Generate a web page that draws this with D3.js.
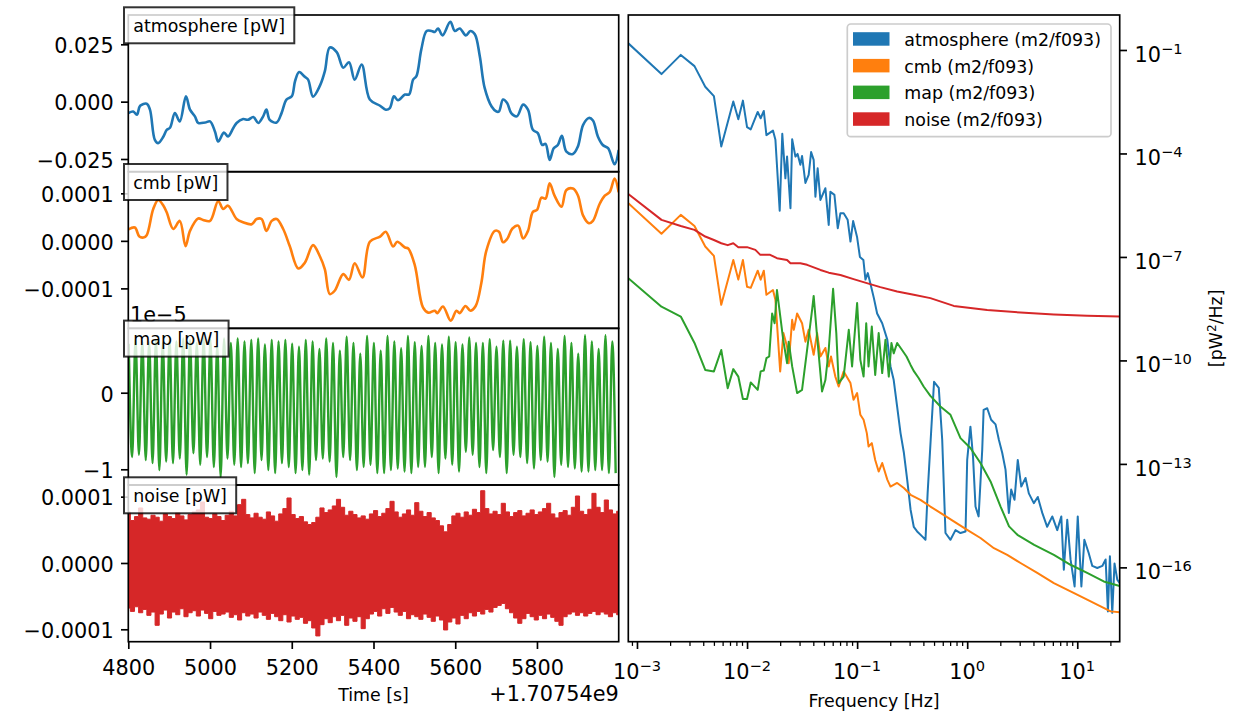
<!DOCTYPE html>
<html>
<head>
<meta charset="utf-8">
<script src="https://cdn.jsdelivr.net/npm/d3@7"></script>
<style>
  body { margin: 0; background: #fff; }
  svg { font-family: "DejaVu Sans", sans-serif; }
</style>
</head>
<body>
<svg width="1247" height="726"></svg>
<script>
// ---- datos ----
// serie de atmosfera: [tiempo - 1.70754e9 (s), valor (pW)]
const atmSerie = [
  [4800,-0.0050],[4812,-0.0043],[4821,-0.0057],[4829,-0.0018],[4845,-0.0009],[4853,-0.0035],[4865,-0.0167],[4873,-0.0181],
  [4886,-0.0152],[4894,-0.0123],[4902,-0.0114],[4914,-0.0050],[4926,-0.0086],[4941,0.0023],[4951,-0.0035],[4963,-0.0064],
  [4971,-0.0093],[4988,-0.0091],[5000,-0.0086],[5012,-0.0130],[5020,-0.0174],[5034,-0.0135],[5044,-0.0152],[5057,-0.0115],
  [5065,-0.0093],[5081,-0.0076],[5093,-0.0079],[5106,-0.0067],[5118,-0.0093],[5130,-0.0064],[5138,-0.0035],[5146,-0.0079],
  [5163,-0.0091],[5175,-0.0050],[5187,0.0009],[5200,0.0023],[5208,0.0089],[5218,0.0129],[5232,0.0108],[5240,0.0096],
  [5252,0.0022],[5269,0.0070],[5281,0.0133],[5293,0.0236],[5310,0.0216],[5326,0.0148],[5340,0.0172],[5354,0.0096],
  [5371,0.0162],[5391,0.0009],[5416,-0.0018],[5430,-0.0035],[5440,-0.0028],[5450,0.0023],[5460,0.0006],[5477,0.0031],
  [5487,0.0031],[5497,0.0096],[5505,0.0111],[5517,0.0228],[5530,0.0308],[5542,0.0308],[5550,0.0304],[5558,0.0319],
  [5569,0.0289],[5588,0.0348],[5599,0.0308],[5611,0.0319],[5626,0.0289],[5637,0.0308],[5648,0.0294],[5660,0.0199],
  [5672,0.0060],[5689,-0.0021],[5701,-0.0043],[5707,-0.0043],[5717,0.0009],[5727,-0.0006],[5737,-0.0050],[5751,-0.0064],
  [5766,-0.0013],[5778,-0.0035],[5790,-0.0123],[5802,-0.0137],[5813,-0.0189],[5821,-0.0184],[5831,-0.0254],[5841,-0.0203],
  [5851,-0.0189],[5861,-0.0149],[5872,-0.0218],[5888,-0.0228],[5900,-0.0196],[5913,-0.0101],[5927,-0.0071],[5937,-0.0082],
  [5949,-0.0152],[5961,-0.0189],[5974,-0.0203],[5990,-0.0273],[6000,-0.0211]
];

// serie cmb: [tiempo, valor en unidades de 1e-5 pW]
const cmbSerie = [
  [4800,2.4],[4816,2.8],[4827,0.9],[4837,0.7],[4845,1.2],[4861,6.7],[4873,8.6],[4886,7.4],[4894,6.0],[4910,2.5],
  [4926,4.2],[4940,-1.1],[4951,2.1],[4971,4.7],[4983,4.4],[5000,4.2],[5020,8.4],[5032,6.7],[5044,7.4],[5065,4.6],
  [5081,3.9],[5102,3.5],[5114,4.6],[5126,4.6],[5138,2.1],[5151,4.2],[5163,4.6],[5179,2.5],[5195,-1.1],[5216,-5.8],
  [5232,-4.6],[5252,-0.9],[5269,-3.3],[5281,-6.0],[5293,-11.2],[5305,-10.5],[5326,-7.0],[5340,-8.2],[5354,-4.7],[5373,-7.7],
  [5391,-0.2],[5416,0.9],[5430,1.9],[5448,-1.2],[5458,-0.2],[5477,-1.4],[5485,-1.6],[5501,-5.1],[5521,-14.0],[5534,-15.1],
  [5550,-14.7],[5556,-15.2],[5570,-13.8],[5589,-16.8],[5603,-14.7],[5611,-15.2],[5625,-13.7],[5637,-14.7],[5650,-13.7],[5664,-8.8],
  [5676,-2.1],[5697,2.1],[5707,1.9],[5717,-0.3],[5727,0.4],[5740,2.6],[5754,3.2],[5766,0.5],[5778,2.1],[5790,6.1],
  [5800,6.5],[5811,9.1],[5821,8.9],[5831,12.1],[5843,9.5],[5860,7.2],[5872,10.7],[5888,11.0],[5900,9.6],[5913,5.3],
  [5927,3.7],[5937,4.2],[5953,7.7],[5966,9.5],[5978,10.3],[5990,13.1],[6000,10.2]
];

// mapa: maximos y minimos de cada oscilacion (unidades de 1e-5 pW)
const mapInicio = 4801;
const mapMedioPeriodo = 8.333;
const mapMaximos = [
  0.64,0.70,0.67,0.66,0.69,0.65,0.70,0.67,0.71,0.69,0.65,0.71,0.69,0.62,0.71,0.65,0.71,0.67,0.69,0.71,0.63,0.69,0.67,0.69,0.64,0.60,0.69,0.67,
  0.57,0.71,0.65,0.55,0.73,0.65,0.51,0.74,0.65,0.55,0.74,0.67,0.58,0.74,0.66,0.61,0.74,0.65,0.63,0.73,0.66,0.63,0.72,0.65,0.65,0.70,
  0.60,0.68,0.68,0.60,0.70,0.66,0.61,0.73,0.65,0.57,0.74,0.65,0.51,0.75,0.67,0.57,0.75,0.67
];
const mapMinimos = [
  -0.84,-0.81,-0.88,-0.92,-1.01,-0.90,-0.92,-0.86,-1.07,-0.79,-0.94,-0.84,-0.97,-1.10,-0.86,-0.94,-0.97,-0.92,-1.05,-0.88,-1.01,-1.05,-0.92,-0.97,-1.05,-1.01,-1.07,-0.88,
  -0.86,-0.90,-1.10,-0.84,-0.88,-1.01,-0.97,-0.94,-1.05,-1.05,-1.01,-0.99,-1.03,-1.05,-0.97,-0.97,-0.84,-1.05,-0.86,-0.94,-1.03,-0.77,
  -0.81,-0.97,-1.05,-0.75,-0.84,-1.05,-0.81,-0.84,-0.92,-0.99,-0.88,-0.90,-1.10,-0.94,-0.97,-0.99,-1.03,-1.03,-1.01,-1.01,-1.05,-1.05
];

// ruido: borde superior e inferior de la banda cada ~10 s (unidades de 1e-5 pW)
const ruidoInicio = 4800;
const ruidoPaso = 1200 / 119;
const ruidoAlto = [
  7.7,6.4,7.0,8.3,6.8,6.6,7.2,6.9,6.3,7.4, 7.0,6.7,7.6,7.1,6.5,7.3,7.7,8.0,9.2,6.9,
  6.7,7.4,7.0,6.4,7.2,7.8,7.1,8.8,9.6,7.3, 6.8,7.5,6.9,6.6,7.7,7.1,6.3,7.4,8.2,9.8,
  7.3,6.7,7.0,6.2,5.8,6.1,6.9,8.3,7.6,8.0, 8.6,9.6,8.4,7.2,7.8,7.3,6.8,7.1,6.6,7.4,
  7.9,7.0,7.5,8.2,9.3,7.7,6.9,7.4,8.0,7.2, 9.1,7.8,7.0,7.6,6.8,6.4,5.6,4.7,5.8,7.1,
  7.5,6.9,7.7,7.2,8.1,7.6,10.9,8.2,7.4,7.8, 7.3,9.0,7.7,7.0,7.6,7.9,7.1,7.5,8.0,7.3,
  7.7,8.2,9.0,7.4,6.8,7.6,7.9,7.2,8.4,10.1, 7.8,7.3,8.1,10.5,8.4,7.6,9.5,8.0,7.4,7.8
];
const ruidoBajo = [
  -6.8,-7.3,-6.6,-7.5,-7.0,-7.9,-7.4,-9.4,-7.7,-7.1, -8.3,-7.4,-7.8,-6.9,-8.1,-7.5,-7.2,-8.0,-7.1,-7.6,
  -8.4,-7.3,-7.9,-7.7,-7.4,-8.2,-7.8,-8.6,-7.5,-8.0, -7.7,-8.3,-7.4,-7.9,-8.5,-7.6,-8.1,-8.7,-7.8,-8.9,
  -8.0,-8.5,-8.2,-9.1,-8.7,-9.8,-11.0,-9.3,-8.4,-9.0, -8.1,-8.7,-7.9,-9.4,-8.3,-8.8,-8.1,-9.9,-8.4,-7.7,
  -7.3,-8.0,-6.9,-7.6,-6.7,-7.4,-7.9,-7.3,-8.4,-7.8, -8.1,-8.5,-7.7,-8.2,-8.8,-8.0,-8.6,-10.1,-8.9,-8.3,
  -9.2,-7.9,-8.4,-7.5,-8.0,-7.3,-7.7,-7.0,-7.4,-6.7, -6.4,-6.1,-6.9,-7.5,-8.3,-9.1,-8.4,-7.6,-8.1,-8.6,
  -7.9,-8.4,-7.7,-8.2,-8.8,-9.4,-8.1,-7.7,-7.4,-7.9, -7.5,-8.0,-7.6,-7.3,-7.8,-7.4,-7.7,-8.1,-7.5,-7.8
];

// espectros: [frecuencia (Hz), densidad (pW^2/Hz)]
const atmPsd = [
  [8.34e-4,1.56e-1],[1.67e-3,2.0e-2],[2.5e-3,7.2e-2],[3.33e-3,3.4e-2],[4.17e-3,8.6e-3],[5.0e-3,4.6e-3],[5.83e-3,1.6e-4],
  [7.5e-3,3.2e-3],[8.33e-3,9.8e-4],[9.17e-3,3.4e-3],[1.0e-2,5.8e-4],[1.08e-2,5.0e-4],[1.25e-2,1.6e-3],[1.33e-2,1.05e-3],
  [1.42e-2,1.7e-3],[1.5e-2,3.4e-4],[1.72e-2,4.6e-4],[1.81e-2,2.5e-4],[1.98e-2,2.2e-6],[2.09e-2,3.7e-4],[2.23e-2,1.9e-5],
  [2.31e-2,8.1e-5],[2.48e-2,2.6e-6],[2.57e-2,2.6e-4],[2.75e-2,8.1e-5],[2.88e-2,9.7e-5],[3.05e-2,4.7e-5],[3.16e-2,8.5e-5],
  [3.39e-2,1.4e-5],[3.63e-2,2.4e-5],[3.82e-2,1.1e-4],[4.03e-2,6.5e-5],[4.18e-2,5.6e-6],[4.38e-2,3.7e-5],[4.64e-2,4.5e-6],
  [5.15e-2,9.8e-6],[5.52e-2,8.5e-7],[5.72e-2,7.8e-6],[6.22e-2,6.3e-6],[6.67e-2,6.8e-7],[7.05e-2,1.85e-6],[7.55e-2,1.85e-6],
  [8.2e-2,1.2e-6],[8.7e-2,2.8e-7],[9.2e-2,1.1e-6],[0.100,3.7e-7],[0.106,1.0e-7],[0.114,8.2e-8],[0.119,2.2e-8],[0.125,3.4e-8],
  [0.134,1.4e-8],[0.142,6.4e-9],[0.152,2.3e-9],[0.169,1.2e-9],[0.188,4.0e-10],[0.201,6.7e-11],[0.215,2.7e-11],[0.231,4.6e-12],
  [0.248,7.8e-13],[0.266,2.1e-13],[0.285,3.5e-14],[0.306,4.7e-15],[0.327,1.5e-15],[0.351,1.1e-15],[0.390,7.9e-16],[0.418,6.3e-16],
  [0.437,1.4e-14],[0.466,5.0e-13],[0.500,2.4e-11],[0.552,1.6e-11],[0.593,5.0e-13],[0.635,9.9e-16],[0.705,6.3e-16],[0.783,1.2e-15],
  [0.869,9.9e-16],[0.966,1.1e-15],[1.0,1.3e-13],[1.07,1.2e-12],[1.13,1.6e-13],[1.19,5.8e-15],[1.27,3.0e-15],[1.37,2.6e-13],
  [1.41,3.7e-12],[1.52,4.1e-12],[1.65,1.9e-12],[1.81,1.4e-12],[1.94,5.0e-13],[2.08,2.1e-13],[2.23,6.8e-14],[2.39,3.8e-15],
  [2.51,1.8e-14],[2.69,9.1e-15],[2.88,1.3e-13],[3.10,2.2e-14],[3.39,3.9e-14],[3.63,1.4e-14],[4.03,7.3e-15],[4.38,1.1e-14],
  [4.81,3.8e-15],[5.33,1.5e-15],[5.93,3.0e-15],[6.58,1.2e-15],[7.16,3.0e-15],[7.55,8.5e-17],[8.11,2.4e-15],[8.69,1.7e-16],
  [9.46,2.8e-17],[10.1,3.0e-15],[10.9,2.8e-17],[11.6,6.3e-16],[12.7,2.6e-16],[13.7,1.1e-16],[15.2,9.6e-17],[16.9,1.1e-16],
  [18.1,1.7e-16],[19.0,5.3e-18],[19.8,2.1e-16],[20.8,4.8e-18],[21.8,1.3e-16],[23.1,4.4e-17],[24.3,3.5e-17]
];
const cmbPsd = [
  [8.34e-4,3.6e-6],[1.67e-3,4.7e-7],[2.5e-3,1.66e-6],[3.33e-3,7.9e-7],[4.17e-3,2.0e-7],[5.0e-3,1.07e-7],[5.83e-3,4.1e-9],
  [7.5e-3,8.2e-8],[8.33e-3,2.2e-8],[9.17e-3,8.2e-8],[1.0e-2,1.36e-8],[1.08e-2,1.27e-8],[1.25e-2,4.0e-8],[1.33e-2,2.2e-8],
  [1.42e-2,4.0e-8],[1.5e-2,8.0e-9],[1.72e-2,1.1e-8],[1.81e-2,5.7e-9],[2.0e-2,4.8e-11],[2.14e-2,6.2e-10],[2.31e-2,2.5e-10],
  [2.39e-2,8.3e-11],[2.57e-2,1.5e-9],[2.66e-2,7.7e-10],[2.85e-2,2.3e-9],[3.16e-2,1.2e-9],[3.39e-2,3.5e-10],[3.63e-2,7.7e-10],
  [4.03e-2,1.45e-10],[4.33e-2,6.2e-10],[4.64e-2,1.3e-10],[5.15e-2,2.3e-10],[5.52e-2,6.7e-11],[5.79e-2,1.3e-10],[6.34e-2,3.4e-11],
  [6.8e-2,1.75e-11],[7.55e-2,4.8e-11],[8.7e-2,2.2e-11],[9.28e-2,7.2e-12],[0.100,1.13e-11],[0.107,2.65e-12],[0.1145,1.9e-12],
  [0.1225,7.8e-13],[0.127,3.2e-13],[0.136,4.0e-13],[0.146,1.3e-13],[0.157,6.0e-14],[0.169,1.06e-13],[0.188,3.5e-14],
  [0.201,2.2e-14],[0.231,2.8e-14],[0.266,2.0e-14],[0.306,1.27e-14],[0.376,9.1e-15],[0.463,5.8e-15],[0.571,3.8e-15],
  [0.755,2.15e-15],[1.0,1.23e-15],[1.32,7.1e-16],[1.75,3.6e-16],[2.31,2.3e-16],[3.05,1.34e-16],[4.33,6.9e-17],[6.13,3.5e-17],
  [8.69,2.0e-17],[12.3,1.16e-17],[16.3,7.4e-18],[20.1,5.3e-18],[24.3,5.0e-18]
];
const mapPsd = [
  [8.34e-4,2.4e-8],[1.67e-3,3.6e-9],[2.5e-3,1.87e-9],[3.33e-3,3.2e-10],[4.17e-3,5.3e-11],[5.0e-3,4.8e-11],[5.83e-3,2.0e-10],
  [6.67e-3,1.57e-11],[7.5e-3,5.6e-11],[8.33e-3,3.4e-11],[9.17e-3,7.6e-12],[1.0e-2,7.6e-12],[1.08e-2,2.3e-11],[1.25e-2,1.4e-11],
  [1.33e-2,4.8e-11],[1.42e-2,5.1e-11],[1.5e-2,1.16e-10],[1.59e-2,1.3e-10],[1.69e-2,2.3e-9],[1.78e-2,1.2e-9],[1.87e-2,1.1e-8],
  [1.97e-2,2.9e-9],[2.13e-2,4.0e-10],[2.31e-2,8.3e-11],[2.39e-2,3.5e-10],[2.57e-2,6.7e-11],[2.85e-2,1.13e-11],[3.16e-2,1.4e-11],
  [3.51e-2,2.0e-10],[3.90e-2,2.9e-9],[4.03e-2,7.4e-9],[4.33e-2,4.9e-10],[4.80e-2,1.26e-11],[5.15e-2,2.7e-11],[5.52e-2,2.0e-10],
  [6.05e-2,1.19e-8],[6.47e-2,6.2e-10],[6.8e-2,2.2e-11],[7.55e-2,3.4e-11],[8.4e-2,7.7e-10],[9.0e-2,6.7e-11],[0.100,4.6e-9],
  [0.107,1.04e-10],[0.1145,3.4e-11],[0.121,1.2e-9],[0.127,6.7e-11],[0.136,9.6e-10],[0.146,3.8e-11],[0.157,6.2e-10],
  [0.169,4.3e-11],[0.181,4.0e-10],[0.194,3.4e-11],[0.205,3.2e-10],[0.215,1.6e-10],[0.231,3.2e-10],[0.256,2.0e-10],
  [0.281,1.3e-10],[0.306,7.4e-11],[0.329,4.8e-11],[0.362,3.1e-11],[0.402,1.75e-11],[0.463,9.4e-12],[0.571,4.6e-12],
  [0.705,2.65e-12],[0.869,5.6e-13],[1.07,2.9e-13],[1.32,1.06e-13],[1.63,3.1e-14],[2.01,5.8e-15],[2.40,1.54e-15],[2.86,8.8e-16],
  [4.06,4.5e-16],[6.13,2.3e-16],[8.69,1.19e-16],[12.3,6.9e-17],[17.4,3.9e-17],[24.3,2.9e-17]
];
const ruidoPsd = [
  [8.34e-4,6.7e-6],[1.67e-3,1.19e-6],[2.5e-3,7.9e-7],[3.33e-3,6.1e-7],[4.17e-3,3.9e-7],[5.0e-3,3.1e-7],[5.83e-3,2.5e-7],
  [6.67e-3,2.2e-7],[7.5e-3,2.5e-7],[8.33e-3,1.92e-7],[1.0e-2,1.92e-7],[1.19e-2,1.6e-7],[1.32e-2,1.15e-7],[1.62e-2,1.15e-7],
  [1.87e-2,9.2e-8],[2.31e-2,8.2e-8],[2.48e-2,6.6e-8],[3.05e-2,6.6e-8],[3.51e-2,5.9e-8],[4.64e-2,4.2e-8],[5.52e-2,3.5e-8],
  [7.05e-2,3.0e-8],[9.28e-2,2.27e-8],[0.1225,1.74e-8],[0.1625,1.33e-8],[0.231,9.9e-9],[0.327,8.0e-9],[0.463,6.4e-9],
  [0.755,3.8e-9],[1.52,2.9e-9],[3.05,2.44e-9],[6.13,2.14e-9],[12.3,1.96e-9],[24.3,1.87e-9]
];

const ticksTiempo = [4800, 5000, 5200, 5400, 5600, 5800];
const ticksFrecuencia = [1e-3, 1e-2, 1e-1, 1, 10];
const ticksPsd = [1e-1, 1e-4, 1e-7, 1e-10, 1e-13, 1e-16];
const nombresLeyenda = ["atmosphere (m2/f093)", "cmb (m2/f093)", "map (m2/f093)", "noise (m2/f093)"];

// ---- dibujo ----
const svg = d3.select("svg");
const colores = ["#1f77b4", "#ff7f0e", "#2ca02c", "#d62728"];
const fuenteTick = 20.8;
const fuenteChica = 17.4;
const grosorEje = 1.67;

const izqX0 = 128.3, izqX1 = 618.7;
const altoPanel = 156.7;
const tiempo = d3.scaleLinear().domain([4800, 6000]).range([izqX0, izqX1]);

const paneles = [
  { nombre: "atmosphere [pW]", top: 15, dom: [-0.03054, 0.03777], ticks: [-0.025, 0, 0.025], fmt: d3.format(".3f") },
  { nombre: "cmb [pW]", top: 171.7, dom: [-1.842e-4, 1.455e-4], ticks: [-1e-4, 0, 1e-4], fmt: d3.format(".4f") },
  { nombre: "map [pW]", top: 328.3, dom: [-1.205e-5, 0.841e-5], ticks: [-1e-5, 0], fmt: d => String(Math.round(d / 1e-5)).replace("-", "\u2212") },
  { nombre: "noise [pW]", top: 485, dom: [-1.187e-4, 1.176e-4], ticks: [-1e-4, 0, 1e-4], fmt: d3.format(".4f") }
];

const defs = svg.append("defs");
paneles.forEach((p, i) => {
  p.y = d3.scaleLinear().domain(p.dom).range([p.top + altoPanel, p.top]);
  defs.append("clipPath").attr("id", "clip" + i)
    .append("rect").attr("x", izqX0).attr("y", p.top).attr("width", izqX1 - izqX0).attr("height", altoPanel);
});
defs.append("clipPath").attr("id", "clipPsd")
  .append("rect").attr("x", 628.3).attr("y", 15).attr("width", 491.4).attr("height", 626.7);

function estiloEje(g, fs) {
  g.select("path.domain").remove();
  g.selectAll(".tick line").attr("stroke", "#000").attr("stroke-width", grosorEje);
  g.selectAll(".tick text").attr("font-size", fs).attr("font-family", "DejaVu Sans").attr("fill", "#000");
  g.attr("font-family", null).attr("font-size", null);
}

// atmosfera
svg.append("path")
  .datum(atmSerie)
  .attr("clip-path", "url(#clip0)")
  .attr("fill", "none").attr("stroke", colores[0]).attr("stroke-width", 2.6).attr("stroke-linejoin", "round")
  .attr("d", d3.line().curve(d3.curveCatmullRom).x(d => tiempo(d[0])).y(d => paneles[0].y(d[1])));

// cmb
svg.append("path")
  .datum(cmbSerie)
  .attr("clip-path", "url(#clip1)")
  .attr("fill", "none").attr("stroke", colores[1]).attr("stroke-width", 2.6).attr("stroke-linejoin", "round")
  .attr("d", d3.line().curve(d3.curveCatmullRom).x(d => tiempo(d[0])).y(d => paneles[1].y(d[1] * 1e-5)));

// mapa: intercalar maximos y minimos
const mapSerie = [];
mapMaximos.forEach((m, k) => {
  mapSerie.push([mapInicio + 2 * k * mapMedioPeriodo, m]);
  mapSerie.push([mapInicio + (2 * k + 1) * mapMedioPeriodo, mapMinimos[k]]);
});
svg.append("path")
  .datum(mapSerie)
  .attr("clip-path", "url(#clip2)")
  .attr("fill", "none").attr("stroke", colores[2]).attr("stroke-width", 2.4).attr("stroke-linejoin", "round")
  .attr("d", d3.line().curve(d3.curveMonotoneX).x(d => tiempo(d[0])).y(d => paneles[2].y(d[1] * 1e-5)));

// ruido como banda escalonada
const ruidoSerie = ruidoAlto.map((h, i) => ({ t: ruidoInicio + i * ruidoPaso, hi: h * 1e-5, lo: ruidoBajo[i] * 1e-5 }));
svg.append("path")
  .datum(ruidoSerie)
  .attr("clip-path", "url(#clip3)")
  .attr("fill", colores[3]).attr("stroke", colores[3]).attr("stroke-width", 1)
  .attr("d", d3.area().curve(d3.curveStep).x(d => tiempo(d.t)).y0(d => paneles[3].y(d.lo)).y1(d => paneles[3].y(d.hi)));

// marcos y ejes de la izquierda
paneles.forEach((p, i) => {
  svg.append("rect")
    .attr("x", izqX0).attr("y", p.top).attr("width", izqX1 - izqX0).attr("height", altoPanel)
    .attr("fill", "none").attr("stroke", "#000").attr("stroke-width", grosorEje);
  const g = svg.append("g").attr("transform", `translate(${izqX0},0)`)
    .call(d3.axisLeft(p.y).tickValues(p.ticks).tickFormat(p.fmt).tickSize(7.3).tickPadding(7.3));
  estiloEje(g, fuenteTick);
  g.selectAll(".tick text").attr("dy", "0.40em");
});

const ejeTiempo = svg.append("g").attr("transform", `translate(0,${paneles[3].top + altoPanel})`)
  .call(d3.axisBottom(tiempo).tickValues(ticksTiempo).tickFormat(d3.format("d")).tickSize(7.3).tickPadding(7.3));
estiloEje(ejeTiempo, fuenteTick);
ejeTiempo.selectAll(".tick text").attr("dy", "0.9em");

svg.append("text").attr("x", 130).attr("y", 321.5).attr("font-size", fuenteTick).text("1e\u22125");
svg.append("text").attr("x", izqX1).attr("y", 701).attr("text-anchor", "end").attr("font-size", fuenteTick).text("+1.70754e9");
svg.append("text").attr("x", (izqX0 + izqX1) / 2).attr("y", 701).attr("text-anchor", "middle").attr("font-size", fuenteChica).text("Time [s]");

// etiquetas de cada panel
paneles.forEach(p => {
  const g = svg.append("g");
  const caja = g.append("rect");
  const txt = g.append("text").attr("x", 133.3).attr("y", p.top + 17).attr("font-size", fuenteChica).text(p.nombre);
  const w = txt.node().getComputedTextLength();
  caja.attr("x", 124).attr("y", p.top - 7.7).attr("width", w + 18.6).attr("height", 36)
    .attr("fill", "#fff").attr("fill-opacity", 0.8)
    .attr("stroke", "#000").attr("stroke-opacity", 0.8).attr("stroke-width", 2);
});

// ---- panel de espectros ----
const frec = d3.scaleLog().domain([8.34e-4, 24.3]).range([628.3, 1119.7]);
const psd = d3.scaleLog().domain([7.0e-19, 1.033]).range([641.7, 15]);
const lineaPsd = d3.line().x(d => frec(d[0])).y(d => psd(d[1]));

[atmPsd, cmbPsd, mapPsd, ruidoPsd].forEach((serie, i) => {
  svg.append("path")
    .datum(serie)
    .attr("clip-path", "url(#clipPsd)")
    .attr("fill", "none").attr("stroke", colores[i]).attr("stroke-width", 2.0).attr("stroke-linejoin", "round")
    .attr("d", lineaPsd);
});

svg.append("rect")
  .attr("x", 628.3).attr("y", 15).attr("width", 491.4).attr("height", 626.7)
  .attr("fill", "none").attr("stroke", "#000").attr("stroke-width", grosorEje);

function textoPotencia(sel, exp) {
  sel.append("tspan").text("10");
  sel.append("tspan").attr("dy", -7.7).attr("font-size", 14.6).text(exp < 0 ? "\u2212" + (-exp) : String(exp));
}

// eje x logaritmico
const menores = frec.ticks().filter(f => Math.abs(Math.log10(f) - Math.round(Math.log10(f))) > 1e-6);
const ejeMenor = svg.append("g").attr("transform", "translate(0,641.7)")
  .call(d3.axisBottom(frec).tickValues(menores).tickFormat("").tickSize(4.2));
estiloEje(ejeMenor, fuenteTick);
ejeMenor.selectAll(".tick line").attr("stroke-width", 1.25);

const ejeFrec = svg.append("g").attr("transform", "translate(0,641.7)")
  .call(d3.axisBottom(frec).tickValues(ticksFrecuencia).tickFormat("").tickSize(7.3));
estiloEje(ejeFrec, fuenteTick);
ticksFrecuencia.forEach(f => {
  const t = svg.append("text").attr("x", frec(f)).attr("y", 679).attr("text-anchor", "middle").attr("font-size", fuenteTick);
  textoPotencia(t, Math.round(Math.log10(f)));
});
svg.append("text").attr("x", 874).attr("y", 707).attr("text-anchor", "middle").attr("font-size", fuenteChica).text("Frequency [Hz]");

// eje y logaritmico a la derecha
const ejePsd = svg.append("g").attr("transform", "translate(1119.7,0)")
  .call(d3.axisRight(psd).tickValues(ticksPsd).tickFormat("").tickSize(7.3));
estiloEje(ejePsd, fuenteTick);
ticksPsd.forEach(v => {
  const t = svg.append("text").attr("x", 1134.5).attr("y", psd(v) + 11.7).attr("font-size", fuenteTick);
  textoPotencia(t, Math.round(Math.log10(v)));
});

const etiquetaY = svg.append("text")
  .attr("transform", "translate(1222,328.3) rotate(-90)")
  .attr("text-anchor", "middle").attr("font-size", fuenteChica);
etiquetaY.append("tspan").text("[pW");
etiquetaY.append("tspan").attr("dy", -6.5).attr("font-size", 12.2).text("2");
etiquetaY.append("tspan").attr("dy", 6.5).text("/Hz]");

// leyenda
const leyenda = svg.append("g");
leyenda.append("rect")
  .attr("x", 847.3).attr("y", 24).attr("width", 263.7).attr("height", 112.7).attr("rx", 3.5)
  .attr("fill", "#fff").attr("fill-opacity", 0.8).attr("stroke", "#cccccc").attr("stroke-width", grosorEje);
nombresLeyenda.forEach((n, i) => {
  const yFila = 32.2 + i * 26.7;
  leyenda.append("rect").attr("x", 853).attr("y", yFila).attr("width", 36.5).attr("height", 13.5).attr("fill", colores[i]);
  leyenda.append("text").attr("x", 904.3).attr("y", yFila + 13.8).attr("font-size", fuenteChica).text(n);
});
</script>
</body>
</html>
